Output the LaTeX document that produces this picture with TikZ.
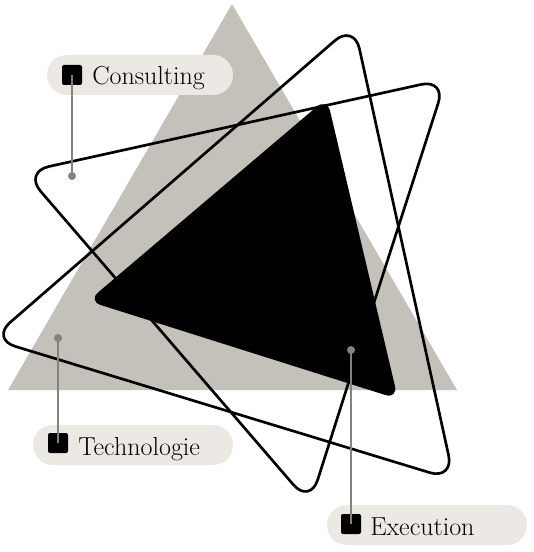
\documentclass[tikz,border=0pt]{standalone}
\usepackage{fontspec}
\definecolor{stone}{HTML}{C4C1BA}
\definecolor{pillgray}{HTML}{ECE9E4}
\definecolor{linkgray}{HTML}{85827B}
\tikzset{
  pill/.style={fill=pillgray, rounded corners=15pt, minimum height=30pt, inner sep=0pt},
  marker/.style={fill=black, minimum size=15pt, inner sep=0pt, rounded corners=1.5pt},
  pindot/.style={circle, fill=linkgray, minimum size=6pt, inner sep=0pt},
  link/.style={draw=linkgray, line width=1.1pt},
  tag/.style={anchor=base west, inner sep=0pt, font=\fontsize{19.5}{23}\selectfont},
  outline/.style={line width=2pt, rounded corners=19pt, line join=round},
}
\begin{document}
\begin{tikzpicture}[x=0.75pt,y=0.75pt,yscale=-1,xscale=1]
\useasboundingbox (0,0) rectangle (534,552);

%Shape: Triangle [id:gray]
\fill[stone] (232,4) -- (457,390) -- (8,390) -- cycle;

%Shape: Triangle outline [id:upright]
\draw[outline] (404,252) -- (454,480) -- (-9,339) -- (354,24) -- cycle;
%Shape: Triangle outline [id:tilted]
\draw[outline] (377.5,291.5) -- (310,504) -- (24,172) -- (446,79) -- cycle;

%Shape: Triangle black [id:core]
\fill[black, rounded corners=10pt] (362.5,248.5) -- (398,399) -- (88,301) -- (327,98) -- cycle;

% Pills
\node[pill, minimum width=139.5pt] (consultingbox) at (140,75) {};
\node[pill, minimum width=150pt] (technologiebox) at (133,445) {};
\node[pill, minimum width=150pt] (executionbox) at (427,525) {};

% Markers
\node[marker] (consultingsq) at (72,75) {};
\node[marker] (technologiesq) at (58,443) {};
\node[marker] (executionsq) at (351,524) {};

% Text Node
\node[tag] (consultingtxt) at (92,85) {Consulting};
% Text Node
\node[tag] (technologietxt) at (78,455) {Technologie};
% Text Node
\node[tag] (executiontxt) at (370,535) {Execution};

% Pins
\node[pindot] (consultingdot) at (72,176) {};
\node[pindot] (technologiedot) at (58,338) {};
\node[pindot] (executiondot) at (351,350) {};

% Links
\draw[link] (consultingdot.center) -- (consultingsq.center);
\draw[link] (technologiedot.center) -- (technologiesq.center);
\draw[link] (executiondot.center) -- (executionsq.center);

\end{tikzpicture}
\end{document}
